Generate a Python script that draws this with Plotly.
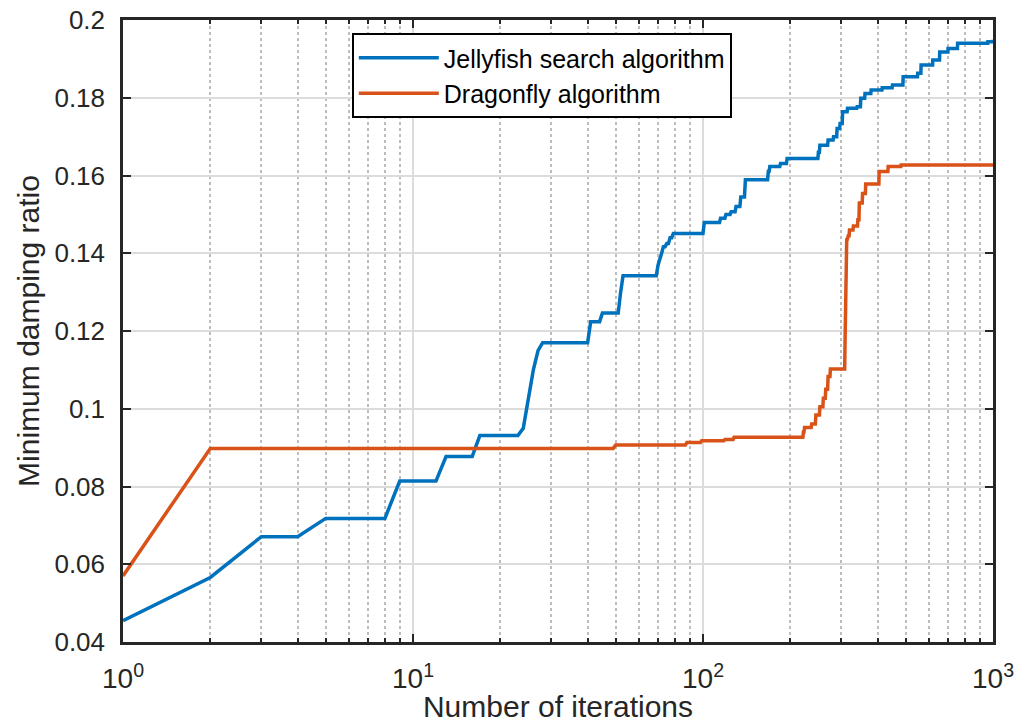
import numpy as np
import plotly.graph_objects as go

# Convergence curves: iteration at which the best value changes, and the new value
jelly_iter = [1, 2, 3, 5, 9, 13, 17, 24, 25, 26, 27, 28, 41, 45, 52, 53, 70, 71, 72, 73, 75, 77, 79,
              101, 115, 120, 125, 130, 135, 140, 168, 170, 185, 195, 250, 253, 270, 282, 290, 297,
              303, 315, 340, 350, 362, 380, 415, 450, 490, 550, 565, 620, 655, 700, 755, 960, 1000]
jelly_val = [0.0455, 0.0566, 0.0671, 0.0718, 0.0814, 0.0877, 0.0931, 0.0950, 0.1027, 0.1100, 0.1150,
             0.1170, 0.1224, 0.1246, 0.1300, 0.1342, 0.1370, 0.1383, 0.1400, 0.1417, 0.1425, 0.1440,
             0.1451, 0.1479, 0.1490, 0.1500, 0.1507, 0.1520, 0.1545, 0.1589, 0.1610, 0.1623, 0.1631,
             0.1644, 0.1660, 0.1678, 0.1691, 0.1700, 0.1721, 0.1734, 0.1764, 0.1773, 0.1777, 0.1799,
             0.1811, 0.1820, 0.1826, 0.1833, 0.1854, 0.1863, 0.1884, 0.1897, 0.1918, 0.1927, 0.1940,
             0.1944, 0.1949]

dragon_iter = [1, 2, 50, 88, 99, 119, 128, 222, 224, 237, 245, 253, 260, 265, 270, 275, 309, 310,
               311, 312, 315, 320, 330, 342, 346, 355, 364, 405, 435, 482]
dragon_val = [0.0570, 0.0898, 0.0907, 0.0913, 0.0918, 0.0921, 0.0927, 0.0940, 0.0952, 0.0961, 0.0984,
              0.1005, 0.1027, 0.1050, 0.1083, 0.1102, 0.1180, 0.1300, 0.1400, 0.1434, 0.1445, 0.1460,
              0.1470, 0.1486, 0.1529, 0.1554, 0.1578, 0.1610, 0.1623, 0.1627]

n_iter = 1000
x_tickvals = [1, 10, 100, 1000]
x_ticktext = ["10<sup>0</sup>", "10<sup>1</sup>", "10<sup>2</sup>", "10<sup>3</sup>"]
y_tickvals = [0.04, 0.06, 0.08, 0.1, 0.12, 0.14, 0.16, 0.18, 0.2]
y_ticktext = ["0.04", "0.06", "0.08", "0.1", "0.12", "0.14", "0.16", "0.18", "0.2"]
minor_vals = [m * d for d in (1, 10, 100) for m in range(2, 10)]


def per_iteration(change_iter, change_val):
    it = np.arange(1, n_iter + 1)
    idx = np.searchsorted(np.array(change_iter), it, side="right") - 1
    return it, np.array(change_val)[idx]


jx, jy = per_iteration(jelly_iter, jelly_val)
dx, dy = per_iteration(dragon_iter, dragon_val)

font = "Liberation Sans, Arial, Helvetica, sans-serif"
axcol = "#262626"

fig = go.Figure()
fig.add_trace(go.Scatter(x=jx, y=jy, mode="lines", name="Jellyfish search algorithm",
                         line=dict(color="#0072BD", width=3.5)))
fig.add_trace(go.Scatter(x=dx, y=dy, mode="lines", name="Dragonfly algorithm",
                         line=dict(color="#D95319", width=3.5)))

fig.update_layout(
    width=1027, height=723,
    margin=dict(l=123, r=34, t=20, b=81),
    paper_bgcolor="white", plot_bgcolor="white",
    font=dict(family=font, color=axcol),
    showlegend=True,
    legend=dict(x=0.263, y=0.979, xanchor="left", yanchor="top",
                bgcolor="white", bordercolor="#000000", borderwidth=2,
                font=dict(size=25, family=font, color="#000000"),
                itemwidth=80, tracegroupgap=0),
)

fig.update_xaxes(
    type="log", range=[0, 3], automargin=False,
    tickmode="array", tickvals=x_tickvals, ticktext=x_ticktext,
    tickfont=dict(size=28, family=font, color=axcol),
    ticks="inside", ticklen=8, tickwidth=1.5, tickcolor=axcol,
    showline=True, linecolor=axcol, linewidth=2.5, mirror="ticks",
    showgrid=True, gridcolor="#dcdcdc", gridwidth=2,
    minor=dict(tickmode="array", tickvals=minor_vals, ticks="inside", ticklen=4,
               tickcolor=axcol, tickwidth=1.5,
               showgrid=True, gridcolor="#bdbdbd", griddash="dot", gridwidth=1.5),
    zeroline=False,
    title=dict(text="Number of iterations", font=dict(size=30, family=font, color=axcol), standoff=8),
    ticklabelstandoff=10,
)
fig.update_yaxes(
    range=[0.04, 0.2], automargin=False,
    tickmode="array", tickvals=y_tickvals, ticktext=y_ticktext,
    tickfont=dict(size=26, family=font, color=axcol),
    ticks="inside", ticklen=8, tickwidth=1.5, tickcolor=axcol,
    showline=True, linecolor=axcol, linewidth=2.5, mirror="ticks",
    showgrid=True, gridcolor="#dcdcdc", gridwidth=2,
    zeroline=False,
    title=dict(text="Minimum damping ratio", font=dict(size=30, family=font, color=axcol), standoff=6),
    ticklabelstandoff=10,
)

fig.write_html("out.html")
